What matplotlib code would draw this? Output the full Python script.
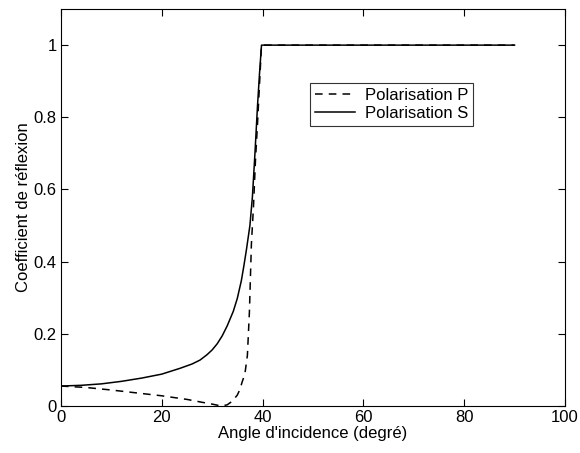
import matplotlib
matplotlib.use("Agg")
import matplotlib.pyplot as plt

plt.rcParams['font.family'] = ['Liberation Sans', 'DejaVu Sans']

# angle d'incidence (degre) et coefficients
angle_s = [0, 4, 8, 12, 16, 20, 23.6, 26, 27.6, 29, 30, 31, 32, 33, 34.2, 35, 35.8, 36.3, 36.8, 37.5, 38, 38.5, 39, 39.4, 39.8, 90]
coef_s = [0.055, 0.057, 0.061, 0.068, 0.077, 0.088, 0.104, 0.116, 0.127, 0.142, 0.155, 0.172, 0.194, 0.222, 0.262, 0.298, 0.347, 0.388, 0.432, 0.50, 0.58, 0.70, 0.83, 0.92, 1.0, 1.0]

angle_p = [0, 5, 10, 15, 20, 25, 28, 30, 31, 32, 33, 34, 35, 35.5, 36, 36.5, 37, 37.4, 37.8, 38.2, 38.6, 39, 39.4, 39.8, 90]
coef_p = [0.055, 0.051, 0.044, 0.036, 0.028, 0.018, 0.010, 0.005, 0.002, 0.0, 0.003, 0.013, 0.03, 0.045, 0.068, 0.088, 0.14, 0.26, 0.45, 0.55, 0.68, 0.78, 0.89, 1.0, 1.0]

xticks = [0, 20, 40, 60, 80, 100]
yticks = [0, 0.2, 0.4, 0.6, 0.8, 1]
ytick_labels = ['0', '0.2', '0.4', '0.6', '0.8', '1']

fig = plt.figure(figsize=(5.8, 4.53), dpi=100)
ax = fig.add_axes([0.105, 0.104, 0.869, 0.876])

ax.plot(angle_p, coef_p, color='black', linestyle='--', dashes=(5, 4), linewidth=1.1, label='Polarisation P')
ax.plot(angle_s, coef_s, color='black', linestyle='-', linewidth=1.1, label='Polarisation S')

ax.set_xlim(0, 100)
ax.set_ylim(0, 1.1)
ax.set_xticks(xticks)
ax.set_yticks(yticks)
ax.set_yticklabels(ytick_labels)
ax.tick_params(direction='in', top=True, right=True, length=5, labelsize=12, pad=3)
ax.set_xlabel("Angle d'incidence (degré)", fontsize=12, labelpad=1)
ax.set_ylabel("Coefficient de réflexion", fontsize=12, labelpad=2)

leg = ax.legend(loc='upper left', bbox_to_anchor=(0.494, 0.814), fontsize=12,
                frameon=True, fancybox=False, edgecolor='black', handlelength=2.4,
                borderpad=0.3, labelspacing=0.2, handletextpad=0.6, borderaxespad=0)
leg.get_frame().set_linewidth(0.8)

fig.savefig('out.png', dpi=100)
